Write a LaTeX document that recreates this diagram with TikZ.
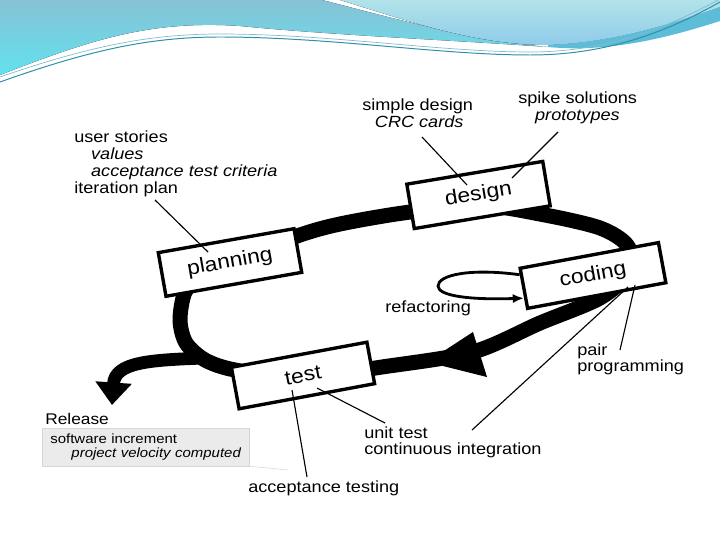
\documentclass[tikz,border=0pt]{standalone}
\usepackage{fontspec}
\setmainfont{Liberation Sans}[FakeStretch=1.12]
\usetikzlibrary{arrows.meta,calc}
\definecolor{hdrblue}{HTML}{86C2D6}
\definecolor{hdrcyan}{HTML}{62E2EE}
\definecolor{hdrlight}{HTML}{B2E3E9}
\definecolor{hdrsky}{HTML}{8FCBEA}
\definecolor{hdrmid}{HTML}{5DBDD9}
\definecolor{hdrline}{HTML}{2E8FA8}
\definecolor{relgray}{HTML}{EBEBEB}
\definecolor{relline}{HTML}{D6D6D6}
\tikzset{
  phase/.style={draw, line width=2.4pt, fill=white, inner sep=0pt, font=\fontsize{14.5}{18}\selectfont},
  note/.style={align=left, inner sep=0pt, font=\fontsize{11.5}{12}\selectfont},
  lead/.style={line width=0.8pt},
  band/.style={line width=0.375cm},
  relbox/.style={fill=relgray, draw=relline, line width=0.4pt, align=left, text width=136pt, inner xsep=5.7pt, minimum height=27pt, font=\fontsize{9.5}{10.5}\selectfont},
}

\begin{document}
\begin{tikzpicture}[x=0.025cm, y=0.025cm]
  \useasboundingbox (0,0) rectangle (720,540);
  \fill[top color=hdrblue, bottom color=hdrcyan] (0,540) -- (322,540) .. controls (400,520) and (470,500) .. (548,493) .. controls (450,500) and (330,505) .. (240,514) .. controls (150,520) and (90,500) .. (0,465) -- cycle;
  \fill[top color=hdrlight, bottom color=hdrsky] (340,540) .. controls (420,515) and (480,495) .. (548,495) .. controls (610,497) and (670,515) .. (720,533) -- (720,540) -- cycle;
  \fill[hdrmid] (548,495) .. controls (610,497) and (670,515) .. (720,533) -- (720,519) .. controls (670,503) and (610,487) .. (548,493) -- cycle;
  \draw[hdrline, line width=0.7pt] (0,458) .. controls (90,490) and (150,503) .. (220,503) .. controls (330,503) and (440,485) .. (530,485) .. controls (610,485) and (670,510) .. (720,538);
  \draw[hdrline!60, line width=0.5pt] (0,463) .. controls (90,494) and (150,506) .. (220,506) .. controls (330,506) and (440,488) .. (530,488) .. controls (610,488) and (670,514) .. (720,541);

  \draw[band] plot[smooth cycle] coordinates {(185,248) (180,220) (186,197) (205,180) (235,170) (300,162) (382,173) (473,188) (540,217) (600,242) (632,270) (627,295) (600,312) (545,325) (478,335) (403,327) (340,316) (300,305) (240,282) (200,262)};
  \coordinate (exit) at (205,182);
  \coordinate (release) at (112,135);
  \draw[line width=0.32cm, -{Triangle[length=16pt,width=25pt]}] (exit) .. controls (150,180) and (115,178) .. (release);
  \fill (427,178) -- (473,208) -- (487,163) -- cycle;

  \node[phase, rotate=10, minimum width=98pt, minimum height=31.5pt] (plan) at (230,277.5) {planning};
  \node[phase, rotate=9.5, minimum width=98pt, minimum height=32pt] (design) at (478.5,345) {design};
  \node[phase, rotate=10.5, minimum width=100pt, minimum height=29pt] (coding) at (593,264.5) {coding};
  \node[phase, rotate=10.5, minimum width=98pt, minimum height=30pt] (test) at (303,164.5) {test};

  \coordinate (refloop) at (438,254);
  \draw[line width=2pt, -{Latex[length=8pt,width=6.5pt]}] ($(coding.north west)!0.18!(coding.south west)$) .. controls (470,272) and (438,265) .. (refloop) .. controls (438,244) and (470,240) .. ($(coding.north west)!0.72!(coding.south west)$);

  \node[note, anchor=north west] (stories) at (74,409) {user stories\\\hspace*{12pt}\textit{values}\\\hspace*{12pt}\textit{acceptance test criteria}\\iteration plan};
  \node[note, anchor=north west] (simple) at (362,441) {simple design\\\hspace*{9pt}\textit{CRC cards}};
  \node[note, anchor=north west] (spike) at (518,448) {spike solutions\\\hspace*{12pt}\textit{prototypes}};
  \node[note, anchor=west] (refac) at (385,232) {refactoring};
  \node[note, anchor=north west] (pair) at (577,197) {pair\\programming};
  \node[note, anchor=north west] (unit) at (364,114) {unit test\\continuous integration};
  \node[note, anchor=west] (accept) at (248,52) {acceptance testing};
  \node[note, anchor=base west, font=\fontsize{11}{13}\selectfont] (rel) at (45,116) {Release};
  \node[relbox] (increment) at (146,93) {software increment\\\hspace*{15pt}\textit{project velocity computed}};

  \coordinate (storiesend) at (155,340);
  \coordinate (planpt) at (208,288);
  \coordinate (simpleend) at (422,403);
  \coordinate (designpt) at (467,355);
  \coordinate (spikeend) at (558,408);
  \coordinate (designpt2) at (512,362);
  \coordinate (pairend) at (620,190);
  \coordinate (codingpt) at (635,255);
  \coordinate (unitend) at (472,110);
  \coordinate (codingpt2) at (628,253);
  \coordinate (unitend2) at (385,117);
  \coordinate (testpt) at (317,152);
  \coordinate (acceptend) at (307,63);
  \coordinate (testpt2) at (292,150);
  \coordinate (shadowend) at (288,70);
  \draw[lead] (storiesend) -- (planpt);
  \draw[lead] (simpleend) -- (designpt);
  \draw[lead] (spikeend) -- (designpt2);
  \draw[lead] (pairend) -- (codingpt);
  \draw[lead] (unitend) -- (codingpt2);
  \draw[lead] (unitend2) -- (testpt);
  \draw[lead] (acceptend) -- (testpt2);
  \draw[relline] (increment.south east) -- (shadowend);
\end{tikzpicture}
\end{document}
